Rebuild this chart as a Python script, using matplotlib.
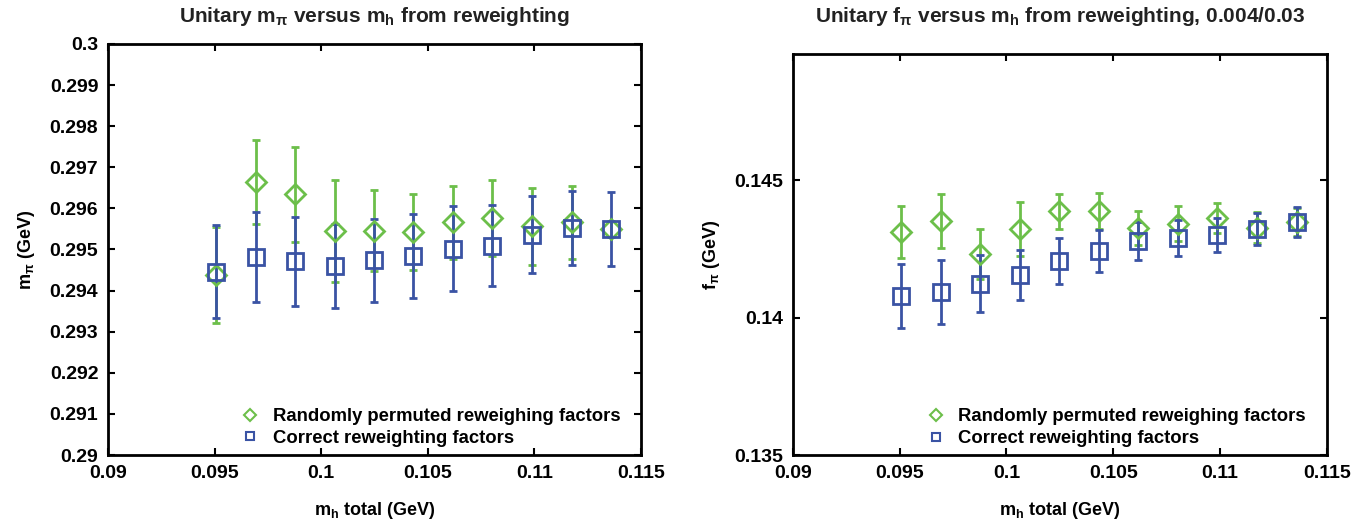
import numpy as np
import matplotlib
matplotlib.use("Agg")
import matplotlib.pyplot as plt
from matplotlib.lines import Line2D

plt.rcParams['font.family'] = ['Liberation Sans', 'DejaVu Sans']
plt.rcParams['font.weight'] = 'bold'
plt.rcParams['mathtext.fontset'] = 'custom'
plt.rcParams['mathtext.rm'] = 'Liberation Sans'
plt.rcParams['mathtext.it'] = 'Liberation Sans'
plt.rcParams['mathtext.bf'] = 'Liberation Sans:bold'
plt.rcParams['mathtext.default'] = 'regular'

# heavy quark mass values (same for both panels)
mh = [0.09507, 0.09693, 0.09878, 0.10063, 0.10248, 0.10432,
      0.10618, 0.10803, 0.10987, 0.11175, 0.11359]

# m_pi, randomly permuted factors
mpi_rand = [0.29438, 0.29665, 0.29634, 0.29544, 0.29546, 0.29543,
            0.29566, 0.29576, 0.29556, 0.29566, 0.29550]
mpi_rand_err = [0.00116, 0.00102, 0.00115, 0.00124, 0.00098, 0.00093,
                0.00088, 0.00092, 0.00094, 0.00089, 0.00020]
# m_pi, correct factors
mpi_corr = [0.29446, 0.29482, 0.29471, 0.29460, 0.29474, 0.29484,
            0.29502, 0.29509, 0.29536, 0.29553, 0.29549]
mpi_corr_err = [0.00113, 0.00110, 0.00109, 0.00103, 0.00101, 0.00102,
                0.00104, 0.00098, 0.00093, 0.00090, 0.00090]

# f_pi, randomly permuted factors
fpi_rand = [0.14312, 0.14352, 0.14231, 0.14324, 0.14387, 0.14387,
            0.14327, 0.14342, 0.14363, 0.14328, 0.14349]
fpi_rand_err = [0.00096, 0.00097, 0.00090, 0.00098, 0.00064, 0.00065,
                0.00061, 0.00063, 0.00055, 0.00058, 0.00050]
# f_pi, correct factors
fpi_corr = [0.14079, 0.14094, 0.14124, 0.14154, 0.14205, 0.14243,
            0.14279, 0.14290, 0.14302, 0.14324, 0.14349]
fpi_corr_err = [0.00117, 0.00117, 0.00103, 0.00091, 0.00084, 0.00077,
                0.00070, 0.00067, 0.00062, 0.00058, 0.00055]

xticks = [0.09, 0.095, 0.1, 0.105, 0.11, 0.115]
yticks_l = [0.29, 0.291, 0.292, 0.293, 0.294, 0.295, 0.296, 0.297, 0.298, 0.299, 0.3]
yticks_r = [0.135, 0.14, 0.145]
leg_labels = ['Randomly permuted reweighing factors', 'Correct reweighting factors']

green = '#6cbf4a'
blue = '#3a53a4'

fig = plt.figure(figsize=(13.72, 5.25), dpi=100)
ax1 = fig.add_axes([0.0787, 0.1333, 0.3885, 0.783])
ax2 = fig.add_axes([0.578, 0.1333, 0.389, 0.764])


def draw(ax, yr, er, yc, ec):
    ax.errorbar(mh, yr, yerr=er, fmt='D', color=green, ms=10.5, mfc='none',
                mew=2, elinewidth=2, capsize=3, capthick=2)
    ax.errorbar(mh, yc, yerr=ec, fmt='s', color=blue, ms=11, mfc='none',
                mew=2, elinewidth=2, capsize=3, capthick=2)
    ax.set_xlim(0.09, 0.115)
    ax.set_xticks(xticks)
    ax.set_xticklabels(['%g' % t for t in xticks])
    ax.tick_params(direction='in', top=True, right=True, length=5, width=1.5,
                   labelsize=14, pad=7)
    for s in ax.spines.values():
        s.set_linewidth(2)
    ax.set_xlabel('m$_h$ total (GeV)', fontsize=13, fontweight='bold', labelpad=13)
    handles = [Line2D([], [], ls='none', marker='D', ms=6, mfc='none', mew=1.5, color=green),
               Line2D([], [], ls='none', marker='s', ms=5.5, mfc='none', mew=1.5, color=blue)]
    ax.legend(handles, leg_labels, loc='lower left', bbox_to_anchor=(0.25, 0.02),
              frameon=False, fontsize=13.3, handletextpad=0.7, labelspacing=0.25,
              handlelength=1.0, borderpad=0, borderaxespad=0)
    ax.yaxis.set_label_coords(-0.133, 0.5)


draw(ax1, mpi_rand, mpi_rand_err, mpi_corr, mpi_corr_err)
ax1.set_ylim(0.29, 0.3)
ax1.set_yticks(yticks_l)
ax1.set_yticklabels(['%g' % t for t in yticks_l])
ax1.set_ylabel('m$_\\pi$ (GeV)', fontsize=13, fontweight='bold')

draw(ax2, fpi_rand, fpi_rand_err, fpi_corr, fpi_corr_err)
ax2.set_ylim(0.135, 0.1496)
ax2.set_yticks(yticks_r)
ax2.set_yticklabels(['%g' % t for t in yticks_r])
ax2.set_ylabel('f$_\\pi$ (GeV)', fontsize=13, fontweight='bold')

# titles sit at the same height above both panels
fig.text(0.0787 + 0.3885 / 2, 0.958, 'Unitary m$_\\pi$ versus m$_h$ from reweighting',
         ha='center', va='baseline', fontsize=15, fontweight='bold', color='#222222')
fig.text(0.578 + 0.389 / 2, 0.958, 'Unitary f$_\\pi$ versus m$_h$ from reweighting, 0.004/0.03',
         ha='center', va='baseline', fontsize=15, fontweight='bold', color='#222222')

fig.savefig('out.png', dpi=100)
